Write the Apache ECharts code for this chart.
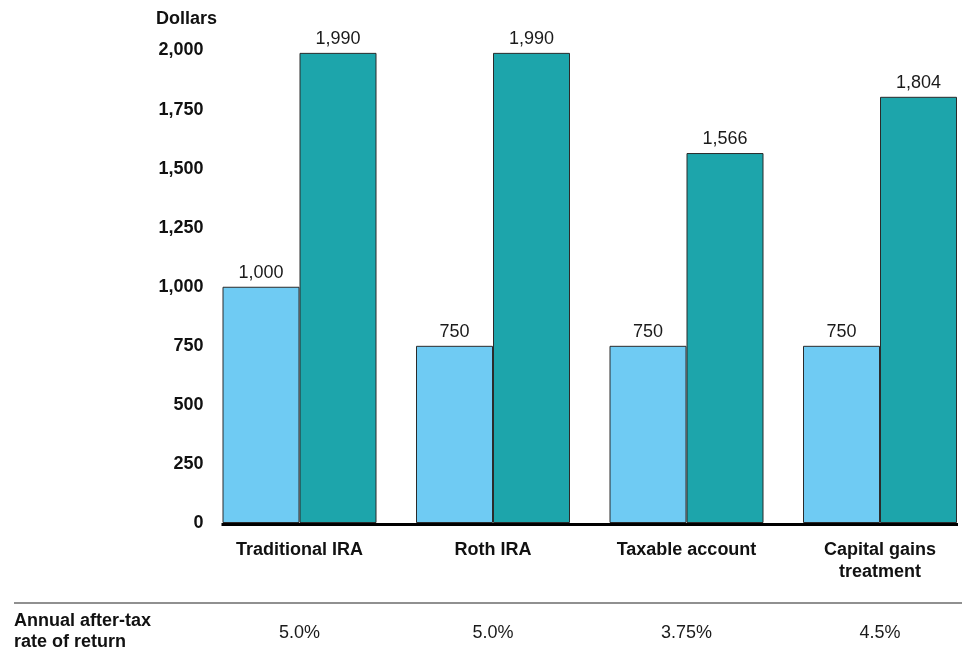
<!DOCTYPE html>
<html>
<head>
<meta charset="utf-8">
<script src="https://cdn.jsdelivr.net/npm/echarts@6/dist/echarts.min.js"></script>
<style>
html,body{margin:0;padding:0;background:#fff;}
#chart{width:967px;height:653px;}
</style>
</head>
<body>
<div id="chart"></div>
<script>
const categories = ['Traditional IRA', 'Roth IRA', 'Taxable account', 'Capital gains\ntreatment'];
const initialValues = [1000, 750, 750, 750];
const finalValues = [1990, 1990, 1566, 1804];
const rates = ['5.0%', '5.0%', '3.75%', '4.5%'];
const yTicks = [0, 250, 500, 750, 1000, 1250, 1500, 1750, 2000];

const FONT = '"Liberation Sans", Arial, Helvetica, sans-serif';
const fmt = v => Number(v).toLocaleString('en-US');

const chart = echarts.init(document.getElementById('chart'), null, {renderer: 'canvas'});

const barLabel = {
  show: true, position: 'top', distance: 5,
  fontFamily: FONT, fontSize: 18, color: '#1a1a1a',
  formatter: p => fmt(p.value)
};

const option = {
  backgroundColor: '#ffffff',
  animation: false,
  title: [
    {text: 'Dollars', left: 151, top: 5,
     textStyle: {fontFamily: FONT, fontSize: 18, fontWeight: 'bold', color: '#111'}},
    {text: 'Annual after-tax\nrate of return', left: 9, top: 606,
     textStyle: {fontFamily: FONT, fontSize: 18, fontWeight: 'bold', color: '#111', lineHeight: 21}}
  ],
  grid: {left: 299.5, right: 87, top: 50.5, bottom: 130, containLabel: false},
  xAxis: [
    {
      type: 'category', data: categories, position: 'bottom', boundaryGap: false,
      axisLine: {show: false}, axisTick: {show: false},
      axisLabel: {fontFamily: FONT, fontSize: 18, fontWeight: 'bold', color: '#111',
                  margin: 16, lineHeight: 22, interval: 0}
    },
    {
      type: 'category', data: rates, position: 'bottom', offset: 101, boundaryGap: false,
      axisLine: {show: false}, axisTick: {show: false},
      axisLabel: {fontFamily: FONT, fontSize: 18, color: '#1a1a1a', margin: 0, interval: 0}
    }
  ],
  yAxis: {
    type: 'value', min: 0, max: 2000, interval: 250,
    axisLine: {show: false}, axisTick: {show: false}, splitLine: {show: false},
    axisLabel: {fontFamily: FONT, fontSize: 18, fontWeight: 'bold', color: '#111', margin: 96,
                formatter: v => yTicks.includes(v) ? fmt(v) : ''}
  },
  series: [
    {
      type: 'bar', data: initialValues, barWidth: 77, barGap: '0%',
      itemStyle: {color: '#6FCBF3', borderColor: '#2b2b2b', borderWidth: 1},
      label: barLabel
    },
    {
      type: 'bar', data: finalValues, barWidth: 77, barGap: '0%',
      itemStyle: {color: '#1DA5AB', borderColor: '#2b2b2b', borderWidth: 1},
      label: barLabel
    }
  ]
};

chart.setOption(option);

// Baseline spanning the bars, and separator line above the rates row
const first = chart.convertToPixel({xAxisIndex: 0, yAxisIndex: 0}, [0, 0]);
const last = chart.convertToPixel({xAxisIndex: 0, yAxisIndex: 0}, [categories.length - 1, 0]);
chart.setOption({
  graphic: [
    {type: 'line', shape: {x1: first[0] - 78, y1: first[1] + 1.5, x2: last[0] + 78, y2: last[1] + 1.5},
     style: {stroke: '#000', lineWidth: 3}, z: 100},
    {type: 'line', shape: {x1: 14, y1: 603, x2: 962, y2: 603},
     style: {stroke: '#6b6b6b', lineWidth: 1.5}, z: 100}
  ]
});
</script>
</body>
</html>
